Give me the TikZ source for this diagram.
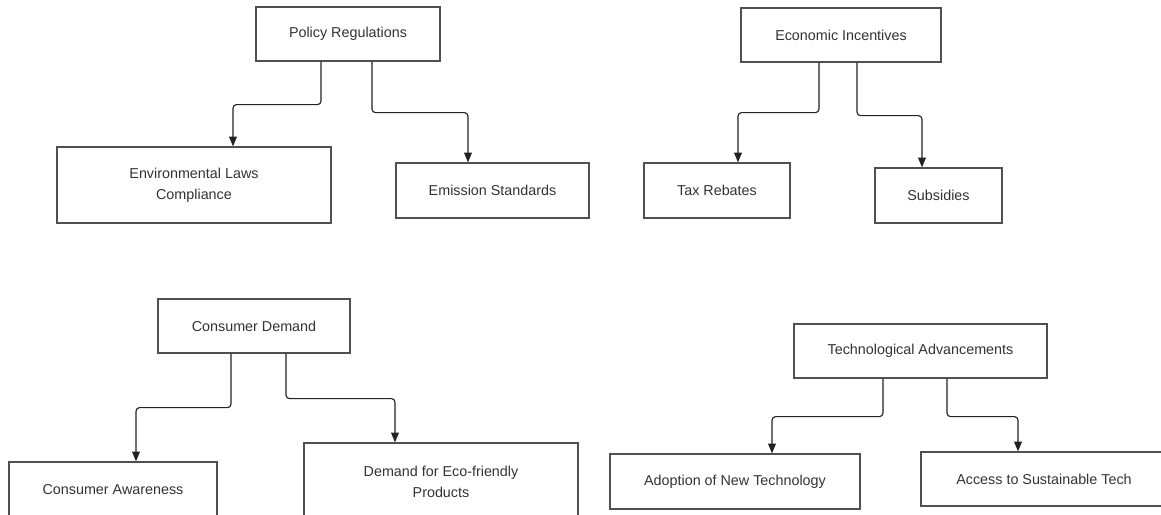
\documentclass[tikz,border=0pt]{standalone}
\usepackage{fontspec}
\setmainfont{Liberation Sans}
\usepackage{tikz}
\usetikzlibrary{arrows.meta, positioning}

\definecolor{boxline}{HTML}{505050}
\definecolor{linkline}{HTML}{222222}
\definecolor{labeltext}{HTML}{333333}

\begin{document}
\begin{tikzpicture}[
  box/.style={draw=boxline, line width=0.9pt, fill=white, text=labeltext,
              align=center, inner sep=2pt,
              font=\fontsize{10.2}{14.8}\selectfont},
  link/.style={draw=linkline, line width=0.8pt, rounded corners=2.5pt,
               -{Triangle[length=7pt, width=5.6pt]}}
]
  % Page frame
  \clip (0,0) rectangle (29.025,12.875);
  \fill[white] (0,0) rectangle (29.025,12.875);

  % Policy branch
  \node[box, minimum width=4.6cm, minimum height=1.35cm] (policy) at (8.7, 12.025) {Policy Regulations};
  \node[box, minimum width=6.85cm, minimum height=1.9cm] (envlaws) at (4.85, 8.25) {Environmental Laws\\Compliance};
  \node[box, minimum width=4.825cm, minimum height=1.375cm] (emission) at (12.3125, 8.1125) {Emission Standards};

  % Economic branch
  \node[box, minimum width=5.0cm, minimum height=1.35cm] (economic) at (21.025, 12.0) {Economic Incentives};
  \node[box, minimum width=3.65cm, minimum height=1.375cm] (taxreb) at (17.925, 8.1125) {Tax Rebates};
  \node[box, minimum width=3.175cm, minimum height=1.375cm] (subsid) at (23.4625, 7.9875) {Subsidies};

  % Consumer branch
  \node[box, minimum width=4.8cm, minimum height=1.35cm] (consumer) at (6.35, 4.725) {Consumer Demand};
  \node[box, minimum width=5.2cm, minimum height=1.4cm] (aware) at (2.825, 0.625) {Consumer Awareness};
  \node[box, minimum width=6.85cm, minimum height=1.95cm] (ecodemand) at (11.025, 0.825) {Demand for Eco-friendly\\Products};

  % Technology branch
  \node[box, minimum width=6.325cm, minimum height=1.35cm] (techadv) at (23.0125, 4.1) {Technological Advancements};
  \node[box, minimum width=6.25cm, minimum height=1.375cm] (adoption) at (18.375, 0.8375) {Adoption of New Technology};
  \node[box, minimum width=6.15cm, minimum height=1.35cm] (access) at (26.1, 0.9) {Access to Sustainable Tech};

  % Connectors
  \draw[link] ([xshift=-0.675cm]policy.south) -- ++(0,-1.075) -| ([xshift=0.975cm]envlaws.north);
  \draw[link] ([xshift=0.6cm]policy.south) -- ++(0,-1.275) -| ([xshift=-0.6125cm]emission.north);
  \draw[link] ([xshift=-0.55cm]economic.south) -- ++(0,-1.25) -| ([xshift=0.525cm]taxreb.north);
  \draw[link] ([xshift=0.4cm]economic.south) -- ++(0,-1.325) -| ([xshift=-0.4125cm]subsid.north);
  \draw[link] ([xshift=-0.575cm]consumer.south) -- ++(0,-1.35) -| ([xshift=0.575cm]aware.north);
  \draw[link] ([xshift=0.8cm]consumer.south) -- ++(0,-1.125) -| ([xshift=-1.15cm]ecodemand.north);
  \draw[link] ([xshift=-0.9375cm]techadv.south) -- ++(0,-0.95) -| ([xshift=0.925cm]adoption.north);
  \draw[link] ([xshift=0.6625cm]techadv.south) -- ++(0,-0.95) -| ([xshift=-0.65cm]access.north);
\end{tikzpicture}
\end{document}
